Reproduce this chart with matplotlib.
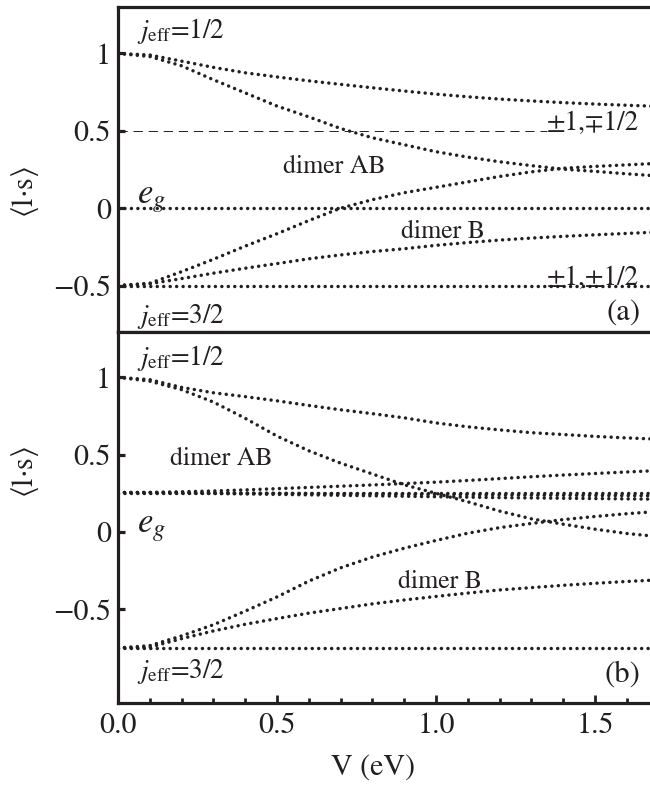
import matplotlib
matplotlib.use("Agg")
import matplotlib.pyplot as plt
from matplotlib.ticker import FixedLocator, FixedFormatter, MultipleLocator, NullLocator

plt.rcParams['font.family'] = ['STIXGeneral', 'DejaVu Sans']
plt.rcParams['mathtext.fontset'] = 'stix'

# ---------------- data ----------------
V = [0.0, 0.1, 0.2, 0.3, 0.4, 0.5, 0.6, 0.7, 0.8, 0.9,
     1.0, 1.1, 1.2, 1.3, 1.4, 1.5, 1.6, 1.7]

# panel (a)
a_top = [1.0, 0.99, 0.95, 0.91, 0.875, 0.848, 0.823, 0.80, 0.778, 0.757,
         0.737, 0.72, 0.705, 0.693, 0.682, 0.673, 0.665, 0.658]
a_dimerAB_down = [1.0, 0.98, 0.92, 0.83, 0.745, 0.66, 0.59, 0.515, 0.455, 0.41,
                  0.365, 0.33, 0.30, 0.275, 0.252, 0.238, 0.222, 0.208]
a_dimerAB_up = [-0.5, -0.485, -0.41, -0.33, -0.245, -0.165, -0.08, 0.0, 0.055, 0.10,
                0.135, 0.17, 0.205, 0.235, 0.258, 0.27, 0.28, 0.29]
a_dimerB = [-0.5, -0.488, -0.455, -0.42, -0.388, -0.358, -0.327, -0.302, -0.28, -0.262,
            -0.24, -0.222, -0.206, -0.193, -0.182, -0.172, -0.163, -0.154]
a_eg = [0.0, 0.0, 0.0, 0.0, 0.0, 0.0, 0.0, 0.0, 0.0, 0.0,
        0.0, 0.0, 0.0, 0.0, 0.0, 0.0, 0.0, 0.0]
a_j32 = [-0.5, -0.5, -0.5, -0.5, -0.5, -0.5, -0.5, -0.5, -0.5, -0.5,
         -0.5, -0.5, -0.5, -0.5, -0.5, -0.5, -0.5, -0.5]
a_ref_V = [0.0, 1.35]
a_ref = [0.5, 0.5]

# panel (b)
b_top = [1.0, 0.985, 0.935, 0.90, 0.875, 0.848, 0.818, 0.79, 0.765, 0.738,
         0.705, 0.68, 0.66, 0.642, 0.63, 0.618, 0.608, 0.60]
b_dimerAB_down = [1.0, 0.975, 0.92, 0.84, 0.735, 0.62, 0.525, 0.445, 0.375, 0.305,
                  0.25, 0.195, 0.135, 0.085, 0.05, 0.018, -0.01, -0.03]
b_dimerAB_up = [-0.75, -0.735, -0.672, -0.60, -0.512, -0.42, -0.318, -0.232, -0.162, -0.105,
                -0.055, -0.008, 0.028, 0.055, 0.08, 0.10, 0.118, 0.133]
b_dimerB = [-0.75, -0.745, -0.69, -0.64, -0.597, -0.56, -0.525, -0.495, -0.465, -0.44,
            -0.417, -0.395, -0.375, -0.36, -0.345, -0.332, -0.32, -0.31]
b_eg_rise = [0.255, 0.256, 0.26, 0.265, 0.272, 0.28, 0.288, 0.296, 0.304, 0.313,
             0.322, 0.333, 0.345, 0.357, 0.368, 0.378, 0.388, 0.397]
b_eg_flat = [0.255, 0.255, 0.255, 0.255, 0.255, 0.255, 0.255, 0.255, 0.255, 0.255,
             0.255, 0.255, 0.255, 0.255, 0.255, 0.255, 0.255, 0.255]
b_eg_mid = [0.255, 0.255, 0.254, 0.253, 0.252, 0.25, 0.249, 0.247, 0.246, 0.244,
            0.243, 0.241, 0.24, 0.238, 0.237, 0.236, 0.235, 0.234]
b_eg_low = [0.255, 0.254, 0.252, 0.249, 0.246, 0.243, 0.24, 0.237, 0.234, 0.231,
            0.228, 0.225, 0.222, 0.22, 0.218, 0.216, 0.214, 0.212]
b_j32 = [-0.75, -0.75, -0.75, -0.75, -0.75, -0.75, -0.75, -0.75, -0.75, -0.75,
         -0.75, -0.75, -0.75, -0.75, -0.75, -0.75, -0.75, -0.75]

y_ticks = [-0.5, 0.0, 0.5, 1.0]
y_ticklabels = ['\u22120.5', '0', '0.5', '1']
x_ticks = [0.0, 0.5, 1.0, 1.5]
x_ticklabels = ['0.0', '0.5', '1.0', '1.5']

# ---------------- figure ----------------
W, H = 650, 792
fig = plt.figure(figsize=(W / 100, H / 100), dpi=100)
ax_a = fig.add_axes([118 / W, 1 - 332 / H, 532 / W, 325 / H])
ax_b = fig.add_axes([118 / W, 1 - 703 / H, 532 / W, 371 / H])

ink = '#231f20'
dot_style = dict(color=ink, lw=2.5, linestyle=(0, (0.01, 1.85)),
                 dash_capstyle='round', solid_capstyle='round')

for s in [a_top, a_dimerAB_down, a_dimerAB_up, a_dimerB, a_eg, a_j32]:
    ax_a.plot(V, s, **dot_style)
ax_a.plot(a_ref_V, a_ref, color=ink, lw=0.7, linestyle=(0, (9.5, 6.0)))

for s in [b_top, b_dimerAB_down, b_dimerAB_up, b_dimerB,
          b_eg_rise, b_eg_flat, b_eg_mid, b_eg_low, b_j32]:
    ax_b.plot(V, s, **dot_style)

xmax = 532 / 318
ax_a.set_xlim(0, xmax)
ax_b.set_xlim(0, xmax)
ax_a.set_ylim(-0.80, 1.30)
ax_b.set_ylim(-1.106, 1.293)

for ax in (ax_a, ax_b):
    for side in ('left', 'top', 'bottom'):
        ax.spines[side].set_linewidth(2.3)
        ax.spines[side].set_color(ink)
    ax.spines['right'].set_visible(False)
    ax.yaxis.set_major_locator(FixedLocator(y_ticks))
    ax.yaxis.set_major_formatter(FixedFormatter(y_ticklabels))
    ax.tick_params(axis='y', which='major', direction='in', length=4.8, width=2.3,
                   labelsize=21.5, pad=5, color=ink, labelcolor=ink,
                   left=True, right=False)

ax_a.xaxis.set_major_locator(NullLocator())
ax_a.xaxis.set_minor_locator(NullLocator())

ax_b.xaxis.set_major_locator(FixedLocator(x_ticks))
ax_b.xaxis.set_major_formatter(FixedFormatter(x_ticklabels))
ax_b.xaxis.set_minor_locator(MultipleLocator(0.1))
ax_b.tick_params(axis='x', which='major', direction='in', length=5.5, width=2.0,
                 labelsize=21.5, pad=7, color=ink, labelcolor=ink, top=False)
ax_b.tick_params(axis='x', which='minor', direction='in', length=3.5, width=2.0,
                 color=ink, top=False)

# ---------------- annotations ----------------
tk = dict(color=ink, va='baseline', ha='left')
ax_a.text(0.06, 1.097, r'$j_{\mathrm{eff}}$=1/2', fontsize=19.5, **tk)
ax_a.text(0.06, 0.031, r'$e_g$', fontsize=25, **tk)
ax_a.text(0.06, -0.74, r'$j_{\mathrm{eff}}$=3/2', fontsize=19.5, **tk)
ax_a.text(0.519, 0.225, 'dimer AB', fontsize=18.5, **tk)
ax_a.text(0.89, -0.19, 'dimer B', fontsize=18.5, **tk)
ax_a.text(1.349, 0.503, '\u00b11,\u22131/2', fontsize=19.5, **tk)
ax_a.text(1.349, -0.50, '\u00b11,\u00b11/2', fontsize=19.5, **tk)
ax_a.text(1.642, -0.72, '(a)', fontsize=22, color=ink, va='baseline', ha='right')

ax_b.text(0.06, 1.08, r'$j_{\mathrm{eff}}$=1/2', fontsize=19.5, **tk)
ax_b.text(0.164, 0.432, 'dimer AB', fontsize=18.5, **tk)
ax_b.text(0.06, 0.0, r'$e_g$', fontsize=25, **tk)
ax_b.text(0.88, -0.364, 'dimer B', fontsize=18.5, **tk)
ax_b.text(0.06, -0.946, r'$j_{\mathrm{eff}}$=3/2', fontsize=19.5, **tk)
ax_b.text(1.642, -0.965, '(b)', fontsize=22, color=ink, va='baseline', ha='right')

ylab = r'$\langle \mathrm{l}{\cdot}\mathrm{s} \rangle$'
fig.text(25 / W, 1 - 192 / H, ylab, rotation=90, fontsize=21.5, color=ink,
         ha='center', va='center')
fig.text(25 / W, 1 - 472 / H, ylab, rotation=90, fontsize=21.5, color=ink,
         ha='center', va='center')
fig.text(373 / W, 1 - 768 / H, 'V (eV)', fontsize=21.5, color=ink,
         ha='center', va='center')

fig.savefig('out.png', dpi=100, facecolor='white')
